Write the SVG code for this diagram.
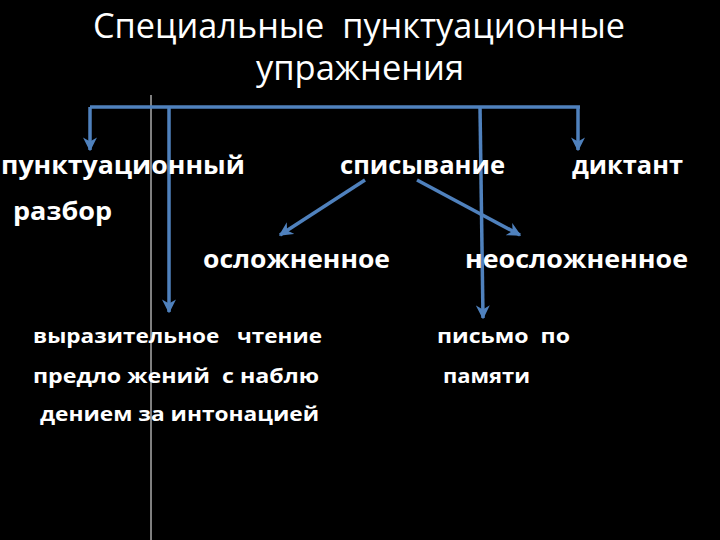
<svg xmlns="http://www.w3.org/2000/svg" width="720" height="540" viewBox="0 0 720 540">
<defs>
<marker id="ah" viewBox="0 0 10 10" refX="9" refY="5" markerWidth="4" markerHeight="4" orient="auto" markerUnits="strokeWidth">
<path d="M0,0 L10,5 L0,10 L3,5 z" fill="#4f81bd"/>
</marker>
<style>
.t{fill:#fff;font-family:"Open Sans","Liberation Sans",sans-serif;white-space:pre}
.h{font-size:34px}
.b{font-weight:bold;font-size:25px}
.s{font-weight:bold;font-size:20px}
.c{fill:none;stroke:#4f81bd;stroke-width:3.5}
</style>
</defs>
<rect width="720" height="540" fill="#000"/>
<line x1="151" y1="95" x2="151" y2="540" stroke="#fff" stroke-width="1"/>
<g id="title">
<text class="t h" x="93" y="38" textLength="532" lengthAdjust="spacingAndGlyphs">Специальные&#160; пунктуационные</text>
<text class="t h" x="256" y="80" textLength="208" lengthAdjust="spacingAndGlyphs">упражнения</text>
</g>
<g id="connectors">
<polyline class="c" points="90,107 580,107"/>
<line class="c" x1="90" y1="107" x2="90" y2="150" marker-end="url(#ah)"/>
<line class="c" x1="578" y1="107" x2="578" y2="150" marker-end="url(#ah)"/>
<line class="c" x1="169" y1="107" x2="169" y2="312" marker-end="url(#ah)"/>
<line class="c" x1="480" y1="107" x2="483" y2="318" marker-end="url(#ah)"/>
<line class="c" x1="365" y1="180" x2="280" y2="235" marker-end="url(#ah)"/>
<line class="c" x1="417" y1="180" x2="520" y2="235" marker-end="url(#ah)"/>
</g>
<g id="n-razbor">
<text class="t b" x="1" y="174" textLength="244" lengthAdjust="spacingAndGlyphs">пунктуационный</text>
<text class="t b" x="13" y="220" textLength="99" lengthAdjust="spacingAndGlyphs">разбор</text>
</g>
<g id="n-spisyvanie">
<text class="t b" x="340" y="174" textLength="165" lengthAdjust="spacingAndGlyphs">списывание</text>
</g>
<g id="n-diktant">
<text class="t b" x="572" y="174" textLength="111" lengthAdjust="spacingAndGlyphs">диктант</text>
</g>
<g id="n-oslozh">
<text class="t b" x="203" y="268" textLength="187" lengthAdjust="spacingAndGlyphs">осложненное</text>
</g>
<g id="n-neoslozh">
<text class="t b" x="465" y="268" textLength="223" lengthAdjust="spacingAndGlyphs">неосложненное</text>
</g>
<g id="n-chtenie">
<text class="t s" x="33" y="343" textLength="289" lengthAdjust="spacingAndGlyphs">выразительное&#160;&#160; чтение</text>
<text class="t s" x="33" y="383" textLength="286" lengthAdjust="spacingAndGlyphs">предло жений&#160; с наблю</text>
<text class="t s" x="40" y="421" textLength="279" lengthAdjust="spacingAndGlyphs">дением за интонацией</text>
</g>
<g id="n-pismo">
<text class="t s" x="437" y="343" textLength="133" lengthAdjust="spacingAndGlyphs">письмо&#160; по</text>
<text class="t s" x="443" y="383" textLength="87" lengthAdjust="spacingAndGlyphs">памяти</text>
</g>
</svg>
